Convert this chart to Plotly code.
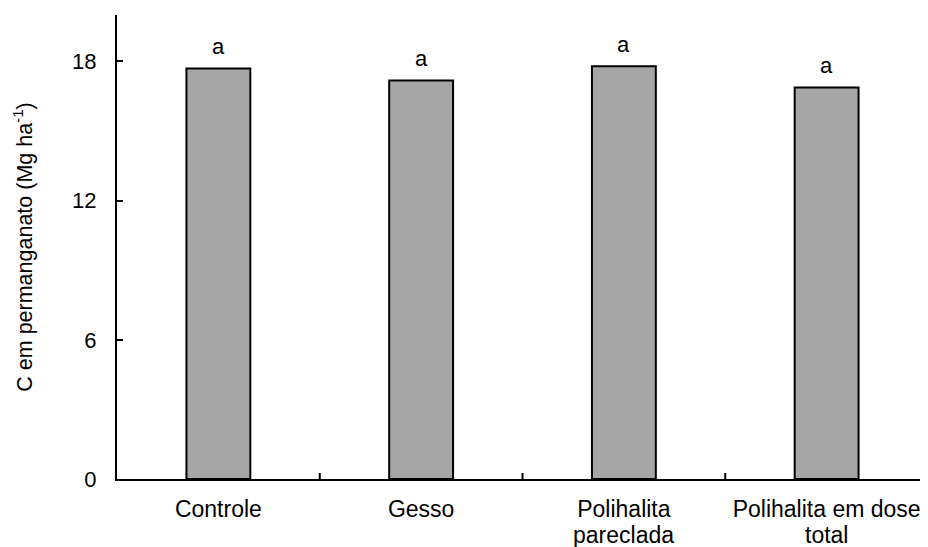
import plotly.graph_objects as go

categories = ["Controle", "Gesso", "Polihalita pareclada", "Polihalita em dose total"]
label_line1 = ["Controle", "Gesso", "Polihalita", "Polihalita em dose"]
label_line2 = ["", "", "pareclada", "total"]
values = [17.69, 17.18, 17.79, 16.87]
letters = ["a", "a", "a", "a"]
y_ticks = [0, 6, 12, 18]

font = "Liberation Sans, Arial, sans-serif"

fig = go.Figure()
fig.add_trace(go.Bar(
    x=categories, y=values, width=0.315,
    marker=dict(color="#a6a6a6", line=dict(color="black", width=2)),
))

for c, v, l in zip(categories, values, letters):
    fig.add_annotation(x=c, y=v, text=l, showarrow=False, yanchor="middle",
                       yshift=22, font=dict(family=font, size=22, color="black"))

for c, l2 in zip(categories, label_line2):
    if l2:
        fig.add_annotation(x=c, y=0, text=l2, showarrow=False, yanchor="middle",
                           yshift=-56, font=dict(family=font, size=23, color="black"))

# page has an 8px body margin; compensate so the plot sits where the reference does
fig.update_layout(
    width=920, height=539,
    margin=dict(l=109, r=0, t=7, b=68, pad=0),
    paper_bgcolor="white", plot_bgcolor="white",
    showlegend=False,
    font=dict(family=font, size=22, color="black"),
)
fig.update_xaxes(
    showline=True, linecolor="black", linewidth=2,
    ticks="", showgrid=False, tickfont=dict(size=23),
    tickmode="array", tickvals=categories, ticktext=label_line1,
    ticklabelstandoff=8,
    range=[-0.5, 3.5],
)
fig.update_yaxes(
    range=[0, 20], tickvals=y_ticks, showline=True, linecolor="black", linewidth=2,
    ticks="inside", ticklen=6, tickwidth=2, tickcolor="black", showgrid=False,
    zeroline=False, ticklabelstandoff=14, tickfont=dict(size=22),
    title=dict(text="C em permanganato (Mg ha<sup>-1</sup>)", font=dict(size=21.5), standoff=34),
)
# between-category ticks on x axis
for b in [0.5, 1.5, 2.5]:
    fig.add_shape(type="line", xref="x", yref="paper", x0=b, x1=b, y0=0, y1=0.013,
                  line=dict(color="black", width=2))

fig.write_html("out.html")
